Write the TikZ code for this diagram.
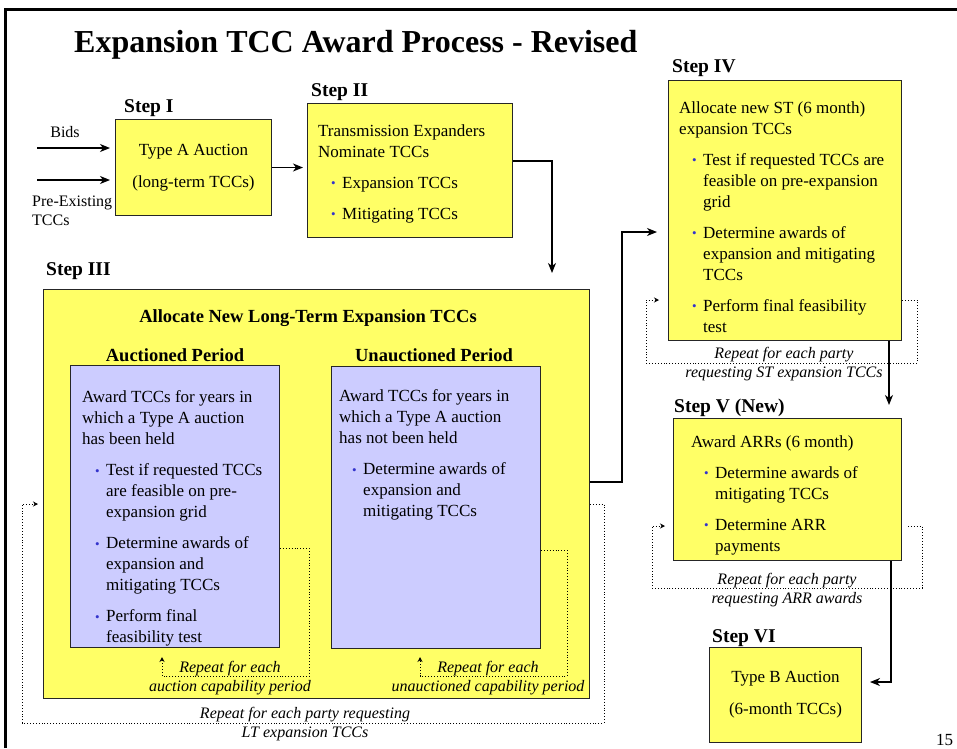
\documentclass[tikz,border=0pt]{standalone}
\usepackage{fontspec}
\setmainfont{Liberation Serif}
\usetikzlibrary{arrows.meta,positioning}
\definecolor{stepyellow}{HTML}{FFFF66}
\definecolor{periodblue}{HTML}{CCCCFF}
\definecolor{bulletblue}{HTML}{3333CC}
\newcommand{\bitem}{\hspace*{13pt}\makebox[11pt][l]{\raisebox{0.6pt}{\textcolor{bulletblue}{\fontsize{13}{13}\selectfont\textbullet}}}}
\newcommand{\bcont}{\hspace*{24pt}}
\begin{document}
\begin{tikzpicture}[x=1pt,y=-1pt,
    stepbox/.style={draw=black!85,line width=1pt,fill=stepyellow,inner sep=0pt,anchor=north west},
    periodbox/.style={draw=black!85,line width=1pt,fill=periodblue,inner sep=0pt,anchor=north west},
    steplabel/.style={font=\fontsize{19.5}{22}\selectfont\bfseries,inner sep=0pt,anchor=base west},
    heading/.style={font=\fontsize{18.5}{22}\selectfont\bfseries,inner sep=0pt,anchor=base},
    body/.style={font=\fontsize{17}{21}\selectfont,align=left,inner sep=0pt,anchor=north west},
    repeattxt/.style={font=\fontsize{16}{19.5}\selectfont\itshape,align=center,inner sep=0pt,anchor=north},
    flow/.style={-{Stealth[length=10pt,width=8pt,inset=3pt]},line width=1.2pt},
    loopline/.style={dotted,line width=0.9pt,-{Stealth[length=5pt,width=5pt]}}]
    \useasboundingbox (0,0) rectangle (957,748);

    % Slide frame and title
    \draw[line width=3pt] (5,748) -- (5,9) -- (957,9);
    \node[font=\fontsize{32}{36}\selectfont\bfseries,inner sep=0pt,anchor=base west] (title) at (74,52) {Expansion TCC Award Process - Revised};

    % Step I
    \node[steplabel] (l1) at (124,112) {Step I};
    \node[stepbox,minimum width=156pt,minimum height=96pt,align=center,font=\fontsize{17}{21}\selectfont] (s1) at (115,119) {Type A Auction\\[11pt](long-term TCCs)};
    \node[font=\fontsize{16}{19}\selectfont,inner sep=0pt,anchor=base] (bids) at (65,137) {Bids};
    \node[font=\fontsize{16}{19}\selectfont,align=left,inner sep=0pt,anchor=north west] (preex) at (32,196) {Pre-Existing\\TCCs};
    \coordinate (bidsin) at (37,148);
    \coordinate (preexin) at (37,180);
    \draw[flow,shorten >=5pt] (bidsin) -- (bidsin -| s1.west);
    \draw[flow,shorten >=5pt] (preexin) -- (preexin -| s1.west);

    % Step II
    \node[steplabel] (l2) at (311,96) {Step II};
    \node[stepbox,minimum width=205pt,minimum height=134pt] (s2) at (307,103) {};
    \node[body] (t2) at (318,124.5) {Transmission Expanders\\Nominate TCCs\\[10pt]\bitem Expansion TCCs\\[10pt]\bitem Mitigating TCCs};
    \draw[flow,shorten >=4pt] (s1.east) -- (s1.east -| s2.west);

    % Step III
    \node[steplabel] (l3) at (46,275) {Step III};
    \node[stepbox,minimum width=546pt,minimum height=409pt] (s3) at (43,289) {};
    \node[heading] (h3) at (308,322) {Allocate New Long-Term Expansion TCCs};
    \node[heading] (hpa) at (175,361) {Auctioned Period};
    \node[heading] (hpu) at (434,361) {Unauctioned Period};
    \node[periodbox,minimum width=209pt,minimum height=282pt] (pa) at (70,365) {};
    \node[periodbox,minimum width=209pt,minimum height=282pt] (pu) at (331,366) {};
    \node[body] (ta) at (82,390.5) {Award TCCs for years in\\which a Type A auction\\has been held\\[10pt]\bitem Test if requested TCCs\\\bcont are feasible on pre-\\\bcont expansion grid\\[10pt]\bitem Determine awards of\\\bcont expansion and\\\bcont mitigating TCCs\\[10pt]\bitem Perform final\\\bcont feasibility test};
    \node[body] (tu) at (339,389.5) {Award TCCs for years in\\which a Type A auction\\has not been held\\[10pt]\bitem Determine awards of\\\bcont expansion and\\\bcont mitigating TCCs};
    \coordinate (c2) at (552,161);
    \draw[flow] (s2.east |- c2) -- (c2) -- (552,273);

    % Step III repeat loops
    \coordinate (la) at (309,548);
    \draw[loopline] (pa.east |- la) -- (la) -- (309,676) -- (162,676) -- (162,657);
    \node[repeattxt] (ra) at (230,661) {Repeat for each\\auction capability period};
    \coordinate (lu) at (567,550);
    \draw[loopline] (pu.east |- lu) -- (lu) -- (567,676) -- (420,676) -- (420,657);
    \node[repeattxt] (ru) at (488,661) {Repeat for each\\unauctioned capability period};
    \coordinate (lo) at (604,504);
    \draw[loopline] (s3.east |- lo) -- (lo) -- (604,723) -- (22,723) -- (22,504) -- (38,504);
    \node[repeattxt] (ro) at (305,707) {Repeat for each party requesting\\LT expansion TCCs};

    % Step IV
    \node[steplabel] (l4) at (672,72) {Step IV};
    \node[stepbox,minimum width=233pt,minimum height=260pt] (s4) at (668,80) {};
    \node[body] (t4) at (679,101.5) {Allocate new ST (6 month)\\expansion TCCs\\[10pt]\bitem Test if requested TCCs are\\\bcont feasible on pre-expansion\\\bcont grid\\[10pt]\bitem Determine awards of\\\bcont expansion and mitigating\\\bcont TCCs\\[10pt]\bitem Perform final feasibility\\\bcont test};
    \coordinate (c3) at (622,482);
    \coordinate (c4) at (657,232);
    \draw[flow] (s3.east |- c3) -- (c3) |- (c4);
    \coordinate (l4a) at (917,300);
    \draw[loopline] (s4.east |- l4a) -- (l4a) -- (917,363) -- (646,363) -- (646,300) -- (659,300);
    \node[repeattxt] (r4) at (784,347) {Repeat for each party\\requesting ST expansion TCCs};

    % Step V
    \node[steplabel] (l5) at (674,412) {Step V (New)};
    \node[stepbox,minimum width=228pt,minimum height=142pt] (s5) at (673,418) {};
    \node[body] (t5) at (691,435.5) {Award ARRs (6 month)\\[10pt]\bitem Determine awards of\\\bcont mitigating TCCs\\[10pt]\bitem Determine ARR\\\bcont payments};
    \coordinate (c5) at (889,405);
    \draw[flow] (s4.south -| c5) -- (c5);
    \coordinate (l5a) at (922,526);
    \draw[loopline] ([xshift=6pt]s5.east |- l5a) -- (l5a) -- (922,588) -- (652,588) -- (652,526) -- (665,526);
    \node[repeattxt] (r5) at (787,573) {Repeat for each party\\requesting ARR awards};

    % Step VI
    \node[steplabel] (l6) at (712,642) {Step VI};
    \node[stepbox,minimum width=152pt,minimum height=95pt,align=center,font=\fontsize{17}{21}\selectfont] (s6) at (709,647) {Type B Auction\\[11pt](6-month TCCs)};
    \coordinate (c6) at (891,682);
    \draw[flow,shorten >=8pt] (s5.south -| c6) -- (c6) -- (c6 -| s6.east);

    % Page number
    \node[font=\fontsize{17}{20}\selectfont,inner sep=0pt,anchor=base west] (page) at (936,745) {15};
\end{tikzpicture}
\end{document}
